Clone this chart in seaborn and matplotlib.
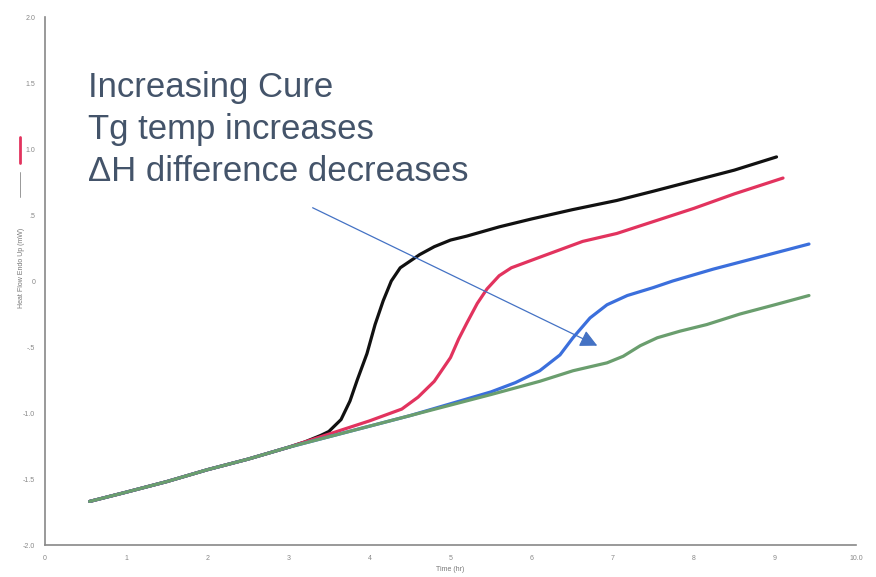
import numpy as np
import pandas as pd
import seaborn as sns
import matplotlib.pyplot as plt
from matplotlib.lines import Line2D

# time (hr) vs heat flow (mW)
common_x = [0.55, 1.0, 1.5, 2.0, 2.5, 3.0]
common_y = [-1.67, -1.60, -1.52, -1.43, -1.35, -1.26]

black_x = common_x + [3.2, 3.4, 3.5, 3.65, 3.76, 3.85, 3.97, 4.07, 4.17, 4.27, 4.38,
                      4.5, 4.62, 4.8, 5.0, 5.2, 5.6, 6.0, 6.5, 7.05, 7.5, 8.0, 8.5, 9.02]
black_y = common_y + [-1.22, -1.17, -1.14, -1.05, -0.91, -0.75, -0.55, -0.33, -0.15, 0.00, 0.10,
                      0.15, 0.20, 0.26, 0.31, 0.34, 0.41, 0.47, 0.54, 0.61, 0.68, 0.76, 0.84, 0.94]

red_x = common_x + [3.3, 3.6, 4.0, 4.4, 4.6, 4.8, 5.0, 5.1, 5.2, 5.33, 5.45, 5.6, 5.75,
                    6.1, 6.63, 7.05, 7.5, 8.0, 8.5, 9.1]
red_y = common_y + [-1.20, -1.14, -1.06, -0.97, -0.88, -0.76, -0.58, -0.44, -0.32, -0.17, -0.06, 0.04, 0.10,
                    0.18, 0.30, 0.36, 0.45, 0.55, 0.66, 0.78]

blue_x = common_x + [3.5, 4.0, 4.5, 5.0, 5.5, 5.8, 6.1, 6.35, 6.51, 6.72, 6.93, 7.18,
                     7.5, 7.74, 8.24, 8.8, 9.42]
blue_y = common_y + [-1.18, -1.10, -1.02, -0.93, -0.84, -0.77, -0.68, -0.56, -0.43, -0.28, -0.18, -0.11,
                     -0.05, 0.00, 0.09, 0.18, 0.28]

green_x = common_x + [3.5, 4.0, 4.5, 5.0, 5.5, 6.1, 6.51, 6.93, 7.13, 7.34, 7.55, 7.83,
                      8.16, 8.57, 9.0, 9.42]
green_y = common_y + [-1.18, -1.10, -1.02, -0.94, -0.86, -0.76, -0.68, -0.62, -0.57, -0.49, -0.43, -0.38,
                      -0.33, -0.25, -0.18, -0.11]

x_ticks = [0, 1, 2, 3, 4, 5, 6, 7, 8, 9, 10]
x_labels = ["0", "1", "2", "3", "4", "5", "6", "7", "8", "9", "10.0"]
y_ticks = [2.0, 1.5, 1.0, 0.5, 0.0, -0.5, -1.0, -1.5, -2.0]
y_labels = ["2.0", "1.5", "1.0", ".5", "0", "-.5", "-1.0", "-1.5", "-2.0"]

note_lines = ["Increasing Cure", "Tg temp increases", "\u0394H difference decreases"]

# long format for seaborn
frames = []
for name, xs, ys in [("black", black_x, black_y), ("red", red_x, red_y),
                     ("blue", blue_x, blue_y), ("green", green_x, green_y)]:
    frames.append(pd.DataFrame({"time": xs, "flow": ys, "run": name}))
df = pd.concat(frames, ignore_index=True)

sns.set_style("white")
plt.rcParams['font.family'] = ['Liberation Sans', 'DejaVu Sans']

fig = plt.figure(figsize=(8.76, 5.77), dpi=100)
ax = fig.add_axes([45/876, 1 - 545/577, (856-45)/876, (545-17)/577])

pal = {"black": "#111111", "red": "#e2335e", "blue": "#3b6fdc", "green": "#6a9e6e"}
sns.lineplot(data=df, x="time", y="flow", hue="run", palette=pal, sort=False,
             estimator=None, legend=False, lw=2.3, ax=ax)

ax.set_xlim(0, 10)
ax.set_ylim(-2.0, 2.0)
ax.set_xticks(x_ticks)
ax.set_xticklabels(x_labels)
ax.set_yticks(y_ticks)
ax.set_yticklabels(y_labels)
ax.tick_params(labelsize=5, colors="#888888", length=2, width=0.8, pad=5)
ax.set_xlabel("Time (hr)", fontsize=5, color="#777777", labelpad=3)
ax.set_ylabel("")
for s in ["top", "right"]:
    ax.spines[s].set_visible(False)
for s in ["left", "bottom"]:
    ax.spines[s].set_color("#888888")
    ax.spines[s].set_linewidth(1.2)

# y label with little legend marks like the instrument export
fig.text(22/876, 1 - 268/577, "Heat Flow Endo Up (mW)", rotation=90, fontsize=5,
         color="#777777", ha="center", va="center")
fig.add_artist(Line2D([20/876, 20/876], [1 - 137/577, 1 - 163/577], color="#e2335e", lw=2,
                      transform=fig.transFigure))
fig.add_artist(Line2D([20/876, 20/876], [1 - 172/577, 1 - 197/577], color="#888888", lw=0.6,
                      transform=fig.transFigure))

# annotation text and arrow
for i, line in enumerate(note_lines):
    fig.text(88/876, 1 - (88 + 42*i)/577, line, fontsize=25, color="#44546a",
             ha="left", va="center")
ax.annotate("", xy=(6.81, -0.49), xytext=(3.30, 0.555),
            arrowprops=dict(arrowstyle="-|>", color="#4472c4", lw=0.9,
                            mutation_scale=26, shrinkA=0, shrinkB=0))

fig.savefig("out.png", dpi=100)
